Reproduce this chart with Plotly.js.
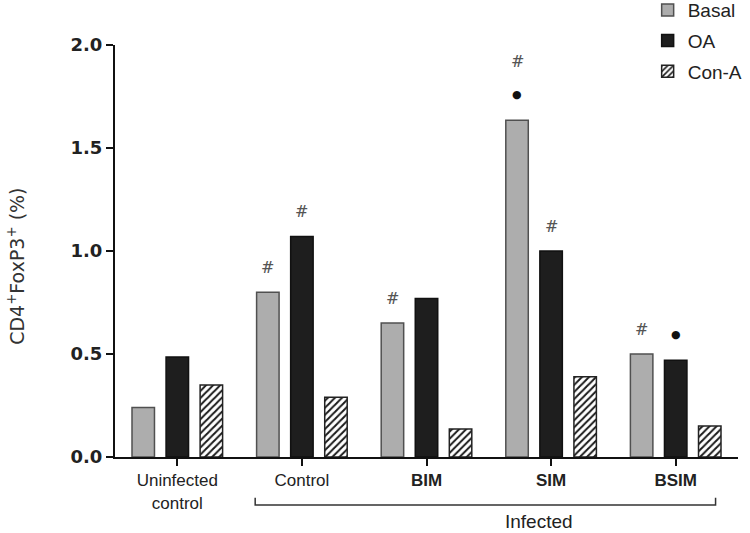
<!DOCTYPE html>
<html>
<head>
<meta charset="utf-8">
<script src="https://cdn.plot.ly/plotly-3.0.1.min.js"></script>
<style>html,body{margin:0;padding:0;background:#fff;}#chart{width:750px;height:533px;}</style>
</head>
<body>
<div id="chart"></div>
<script>
// ---- data ----
const categories = ["Uninfected control", "Control", "BIM", "SIM", "BSIM"];
const tickLabels = ["Uninfected<br>control", "Control", "<b>BIM</b>", "<b>SIM</b>", "<b>BSIM</b>"];
const seriesNames = ["Basal", "OA", "Con-A"];
const basal = [0.24, 0.80, 0.65, 1.635, 0.50];
const oa    = [0.485, 1.07, 0.77, 1.00, 0.47];
const conA  = [0.35, 0.29, 0.136, 0.39, 0.15];
// significance marks: [category index, series index]
const hashMarks = [[1,0],[1,1],[2,0],[3,0],[3,1],[4,0]];
const dotMarks  = [[3,0],[4,1]];
const yTicks = [0, 0.5, 1.0, 1.5, 2.0];
const yTitle = 'CD4<sup>+</sup>FoxP3<sup>+</sup> (%)';
const groupLabel = 'Infected';

const bargap = 0.18, bargroupgap = 0.34;
const slot = (1 - bargap) / 3;
const allSeries = [basal, oa, conA];
const xIdx = categories.map((c, i) => i);

const FONT = "Liberation Sans, Arial, sans-serif";
const WIDE = "DejaVu Sans, sans-serif";

const traces = [
  {type:'bar', name:seriesNames[0], x:xIdx, y:basal, legendgroup:'a',
   marker:{color:'#adadad', line:{color:'#505050', width:1.5}}},
  {type:'bar', name:seriesNames[1], x:xIdx, y:oa, legendgroup:'b',
   marker:{color:'#1e1e1e', line:{color:'#111', width:1.5}}},
  {type:'bar', name:seriesNames[2], x:xIdx, y:conA, legendgroup:'c',
   marker:{color:'#ffffff', line:{color:'#222', width:1.5},
     pattern:{shape:'/', fgcolor:'#1a1a1a', bgcolor:'#ffffff', size:5, solidity:0.4}}}
];

const annotations = [];
hashMarks.forEach(([c, s]) => {
  const extra = dotMarks.some(d => d[0]===c && d[1]===s) ? 59 : 25;
  annotations.push({x: c + (s-1)*slot, y: allSeries[s][c], xref:'x', yref:'y',
    text:'#', showarrow:false, yshift:extra, yanchor:'middle',
    font:{family:'DejaVu Serif, serif', size:16, color:'#555'}});
});
dotMarks.forEach(([c, s]) => {
  annotations.push({x: c + (s-1)*slot, y: allSeries[s][c], xref:'x', yref:'y',
    text:'●', showarrow:false, yshift:26, yanchor:'middle',
    font:{family:WIDE, size:11, color:'#111'}});
});
annotations.push({x: 2.9, y: -0.157, xref:'x', yref:'paper', text:groupLabel, showarrow:false,
  yanchor:'middle', font:{family:FONT, size:19, color:'#222'}});
// y-axis title (rotated text)
annotations.push({x: -0.158, y: 0.463, xref:'paper', yref:'paper', text:yTitle, showarrow:false,
  textangle:-90, xanchor:'center', yanchor:'middle', font:{family:WIDE, size:19, color:'#333'}});

const shapes = [
  {type:'path', xref:'x', yref:'paper',
   path:`M ${1-0.375},-0.099 L ${1-0.375},-0.1165 L ${4+0.32},-0.1165 L ${4+0.32},-0.099`,
   line:{color:'#333', width:1.5}}
];

const layout = {
  width:750, height:533,
  margin:{l:115, r:12, t:45, b:76, autoexpand:false},
  paper_bgcolor:'#fff', plot_bgcolor:'#fff',
  barmode:'group', bargap:bargap, bargroupgap:bargroupgap,
  showlegend:true,
  legend:{x:0.855, y:1.131, xanchor:'left', yanchor:'top', traceorder:'grouped', tracegroupgap:3,
    font:{family:FONT, size:19, color:'#222'}, bgcolor:'rgba(0,0,0,0)'},
  xaxis:{type:'linear', range:[-0.5, 4.5], tickvals:xIdx, ticktext:tickLabels,
    showline:true, linecolor:'#111', linewidth:2, ticks:'outside', ticklen:7, tickwidth:2, tickcolor:'#111',
    showgrid:false, zeroline:false, tickfont:{family:FONT, size:17, color:'#222'}},
  yaxis:{range:[0, 2], tickvals:yTicks, tickformat:'.1f',
    showline:true, linecolor:'#111', linewidth:2, ticks:'outside', ticklen:7, tickwidth:2, tickcolor:'#111',
    showgrid:false, zeroline:false,
    tickfont:{family:WIDE, size:18, color:'#222', weight:'bold'}},
  annotations:annotations,
  shapes:shapes
};

Plotly.newPlot('chart', traces, layout, {displayModeBar:false, staticPlot:true});
</script>
</body>
</html>
